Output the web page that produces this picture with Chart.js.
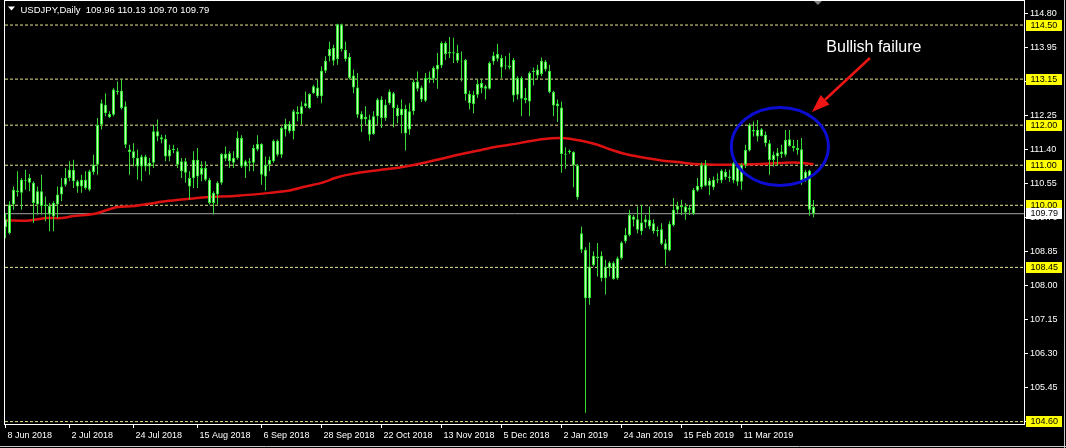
<!DOCTYPE html>
<html>
<head>
<meta charset="utf-8">
<title>USDJPY Daily</title>
<script src="https://cdn.jsdelivr.net/npm/chart.js@4.4.1/dist/chart.umd.min.js"></script>
<style>
  html, body { margin: 0; padding: 0; background: #000; }
  #wrap { position: relative; width: 1066px; height: 448px; }
</style>
</head>
<body>
<div id="wrap"><canvas id="chart"></canvas></div>
<script>
// daily candles, 8 Jun 2018 .. 25 Mar 2019
const opens = [
  109.45,109.31,110.02,110.33,110.31,110.61,110.68,110.56,110.35,110.35,
  110.02,109.77,109.72,110.02,110.27,110.51,110.68,110.89,110.47,110.47,
  110.43,110.39,110.83,111.01,112.01,112.51,112.20,112.26,112.86,112.86,
  112.47,111.39,111.35,111.18,110.97,111.22,110.97,111.06,111.85,111.70,
  111.66,111.22,111.41,111.35,111.10,111.10,110.47,110.68,111.14,110.76,
  110.93,110.64,110.06,110.27,110.56,111.28,111.10,111.18,111.18,111.68,
  110.97,111.10,111.06,111.39,111.53,110.72,111.01,111.10,111.61,111.26,
  111.89,112.03,111.85,112.33,112.28,112.47,112.43,112.80,112.94,112.72,
  113.36,113.72,113.93,113.65,114.51,113.88,113.71,113.24,112.94,112.28,
  112.15,112.14,111.78,112.22,112.64,112.18,112.55,112.80,112.43,112.25,
  112.41,111.89,112.35,113.09,112.94,112.61,113.15,113.16,113.39,113.49,
  114.05,113.79,113.82,113.80,113.61,113.63,112.78,112.53,112.76,113.05,
  112.97,112.91,113.59,113.66,113.68,113.47,113.49,113.63,112.76,113.18,
  112.68,112.59,113.33,113.39,113.28,113.59,113.36,112.83,112.54,112.44,
  111.28,111.33,111.33,111.00,109.30,108.89,107.68,108.51,108.72,108.74,
  108.18,108.43,108.56,108.18,108.68,109.10,109.26,109.72,109.65,109.35,
  109.57,109.64,109.55,109.39,109.40,109.05,108.87,109.51,109.89,109.99,
  109.97,109.89,109.79,110.37,110.45,111.01,110.49,110.64,110.62,110.62,
  110.84,110.68,110.62,110.95,110.59,111.01,111.37,111.88,111.72,111.90,
  111.76,111.55,111.13,111.22,111.28,111.26,111.65,111.48,111.43,111.40,
  110.64,110.87,109.96
];
const highs = [
  109.80,110.10,110.47,110.85,110.68,110.89,110.78,110.60,110.47,110.76,
  110.22,110.06,110.10,110.47,110.68,110.93,111.10,111.14,110.64,110.76,
  110.85,110.89,111.26,112.18,112.64,112.80,112.35,112.93,113.09,113.14,
  112.59,111.51,111.55,111.39,111.26,111.26,111.18,112.01,112.14,111.76,
  111.76,111.51,111.51,111.43,111.18,111.18,110.85,111.35,111.43,111.10,
  111.10,110.68,110.35,110.60,111.30,111.47,111.35,111.35,111.85,111.75,
  111.14,111.18,111.51,111.75,111.55,111.22,111.22,111.64,111.64,111.97,
  112.16,112.10,112.39,112.47,112.59,112.84,112.80,113.01,113.14,113.47,
  113.72,114.08,114.01,114.53,114.53,114.08,113.80,113.39,113.30,112.35,
  112.47,112.26,112.35,112.68,112.72,112.64,112.89,112.83,112.51,112.64,
  112.51,112.55,113.14,113.34,112.99,113.30,113.34,113.47,113.80,114.09,
  114.09,114.20,114.18,114.01,113.84,113.65,112.86,112.86,113.14,113.14,
  113.01,113.59,113.83,114.03,113.76,113.72,113.80,113.68,113.22,113.22,
  112.93,113.34,113.44,113.51,113.69,113.63,113.51,112.86,112.64,112.59,
  111.45,111.39,111.35,111.03,109.47,108.95,109.07,108.85,109.06,108.85,
  108.64,108.60,108.60,108.72,109.10,109.43,109.89,109.76,109.97,110.01,
  109.76,109.97,109.65,109.47,109.55,109.15,109.60,110.18,110.09,110.14,
  110.05,110.01,110.43,110.68,111.07,111.13,110.68,110.72,110.80,110.90,
  110.90,110.89,111.09,110.97,111.05,111.51,112.05,112.09,112.13,111.93,
  111.84,111.63,111.34,111.43,111.51,111.88,111.88,111.63,111.63,111.68,
  110.89,110.89,110.13
];
const lows = [
  109.18,109.27,109.89,110.22,109.89,110.39,110.35,109.56,109.77,109.77,
  109.60,109.35,109.35,109.68,110.10,110.47,110.60,110.43,110.31,110.31,
  110.39,110.35,110.76,110.76,111.89,112.22,112.18,112.22,112.76,112.39,
  111.43,110.76,110.97,110.64,110.60,110.85,110.76,110.93,111.60,111.55,
  111.10,111.10,111.30,110.93,110.68,110.56,110.14,110.43,110.43,110.60,
  110.60,110.02,109.77,110.02,110.51,111.10,110.93,110.93,111.14,110.93,
  110.68,110.85,110.85,111.35,110.51,110.37,110.85,111.06,111.22,111.18,
  111.72,111.80,111.64,112.10,112.01,112.43,112.41,112.78,112.68,112.55,
  113.30,113.59,113.49,113.51,113.84,113.59,113.14,112.80,112.18,111.83,
  112.01,111.61,111.76,112.01,111.93,112.11,112.51,111.95,112.05,111.80,
  111.37,111.76,112.26,112.84,112.58,112.58,113.05,113.05,112.91,113.43,
  113.63,113.68,113.55,113.55,113.09,112.61,112.39,112.30,112.68,112.80,
  112.64,112.89,113.51,113.59,113.18,113.39,113.39,112.58,112.64,112.22,
  112.55,112.22,112.99,113.14,113.22,113.34,112.80,112.22,112.08,110.81,
  110.91,111.28,110.45,110.14,108.81,104.82,107.52,108.47,108.22,108.10,
  107.77,108.22,108.14,108.14,108.64,109.05,109.22,109.47,109.30,109.26,
  109.43,109.40,109.29,109.22,109.01,108.49,108.85,109.47,109.80,109.76,
  109.64,109.76,109.76,110.34,110.40,110.47,110.26,110.39,110.55,110.55,
  110.64,110.59,110.55,110.49,110.39,110.93,111.34,111.72,111.59,111.72,
  111.47,110.76,110.97,110.98,111.18,111.22,111.47,111.34,111.26,110.51,
  110.59,109.74,109.70
];
const closes = [
  109.65,110.02,110.39,110.37,110.64,110.64,110.56,110.06,110.02,109.98,
  109.98,109.98,110.06,110.27,110.47,110.68,110.89,110.60,110.60,110.64,
  110.64,110.85,111.01,112.01,112.55,112.30,112.28,112.89,112.83,112.43,
  111.51,111.33,111.18,110.97,111.22,110.97,111.06,111.85,111.72,111.64,
  111.22,111.39,111.38,111.01,110.85,110.81,110.68,111.14,110.72,110.93,
  110.64,110.06,110.31,110.56,111.28,111.16,111.30,111.06,111.68,110.97,
  111.10,111.06,111.43,111.53,110.76,111.01,111.14,111.61,111.26,111.93,
  112.03,111.85,112.35,112.28,112.47,112.55,112.78,112.97,112.72,113.36,
  113.61,113.90,113.61,114.52,113.90,113.65,113.18,112.94,112.26,112.14,
  112.21,111.76,112.22,112.64,112.18,112.51,112.84,112.43,112.22,112.41,
  111.79,112.35,113.08,112.91,112.64,113.18,113.19,113.43,113.51,114.05,
  113.78,113.83,113.79,113.61,113.59,112.78,112.55,112.76,113.03,112.93,
  112.91,113.55,113.74,113.78,113.44,113.49,113.44,112.74,113.18,112.66,
  112.63,113.30,113.36,113.24,113.61,113.39,112.83,112.49,112.47,111.28,
  111.26,111.36,111.00,110.20,108.89,107.68,108.47,108.74,108.68,108.18,
  108.47,108.57,108.16,108.68,109.07,109.26,109.76,109.64,109.39,109.57,
  109.65,109.47,109.35,109.35,109.04,108.89,109.54,109.89,109.99,109.95,
  109.82,109.93,110.39,110.49,111.01,110.49,110.62,110.45,110.65,110.87,
  110.70,110.72,111.05,110.59,111.01,111.38,112.01,111.84,111.88,111.73,
  111.55,111.13,111.26,111.32,111.34,111.63,111.48,111.43,111.38,110.62,
  110.84,109.89,109.79
];

// red moving average, read at these bar numbers
const maIdx = [0,6,10,14,17,22,25,28,32,36,40,47,50,58,66,71,75,79,83,87,91,96,100,
  105,109,114,118,122,126,130,134,139,144,148,151,155,159,164,168,172,180,189,197,202];
const maVals = [109.62,109.62,109.68,109.68,109.73,109.78,109.87,109.96,109.98,110.04,
  110.10,110.17,110.20,110.24,110.31,110.37,110.47,110.56,110.70,110.79,110.85,110.91,
  110.97,111.07,111.16,111.28,111.36,111.45,111.51,111.58,111.65,111.68,111.61,111.51,
  111.40,111.28,111.20,111.12,111.08,111.03,111.01,111.03,111.07,111.03];

// horizontal levels and price axis
const levels = [114.50, 113.15, 112.00, 111.00, 110.00, 108.45, 104.60];
const bid = 109.79;
const priceTicks = [114.80, 113.95, 113.10, 112.25, 111.40, 110.55, 109.70, 108.85,
  108.00, 107.15, 106.30, 105.45, 104.60];
const dateTickIdx = [0, 16, 32, 48, 64, 79, 94, 109, 124, 139, 154, 169, 184];
const dateLabels = ['8 Jun 2018', '2 Jul 2018', '24 Jul 2018', '15 Aug 2018', '6 Sep 2018',
  '28 Sep 2018', '22 Oct 2018', '13 Nov 2018', '5 Dec 2018', '2 Jan 2019', '24 Jan 2019',
  '15 Feb 2019', '11 Mar 2019'];

const header = 'USDJPY,Daily  109.96 110.13 109.70 109.79';
const note = 'Bullish failure';

const xMin = -0.125, xMax = 254.625;
const yMin = 104.54, yMax = 115.10;
const axisFont = { family: 'Liberation Sans', size: 9 };

const wickData = opens.map((_, i) => ({ x: i, y: [lows[i], highs[i]] }));
const bodyData = opens.map((o, i) => ({ x: i, y: [o, closes[i]] }));
const maData = maIdx.map((v, k) => ({ x: v, y: maVals[k] }));

const levelSets = levels.map(lv => ({
  type: 'line',
  data: [{ x: xMin, y: lv }, { x: xMax, y: lv }],
  borderColor: '#e6e68e',
  borderWidth: 1,
  borderDash: [3, 2],
  pointRadius: 0,
  order: 6
}));

const decor = {
  id: 'decor',
  beforeDraw(chart) {
    const { ctx, width, height } = chart;
    ctx.save();
    ctx.fillStyle = '#000';
    ctx.fillRect(0, 0, width, height);
    ctx.restore();
  },
  afterDraw(chart) {
    const { ctx, chartArea: a, scales, width, height } = chart;
    const x = scales.x, y = scales.y;
    ctx.save();

    // frame
    ctx.strokeStyle = '#ffffff';
    ctx.lineWidth = 1;
    ctx.strokeRect(a.left - 0.5, a.top - 0.5, a.right - a.left + 1, a.bottom - a.top + 1);
    ctx.strokeStyle = '#c8c8c8';
    ctx.beginPath();
    ctx.moveTo(0, height - 1.5); ctx.lineTo(width, height - 1.5);
    ctx.moveTo(width - 1.5, 0); ctx.lineTo(width - 1.5, height);
    ctx.stroke();

    // header
    ctx.fillStyle = '#ffffff';
    ctx.beginPath();
    ctx.moveTo(8, 6.5); ctx.lineTo(15, 6.5); ctx.lineTo(11.5, 10.5); ctx.closePath();
    ctx.fill();
    ctx.font = '9.5px "Liberation Sans"';
    ctx.textBaseline = 'alphabetic';
    ctx.textAlign = 'left';
    ctx.fillText(header, 20.5, 12.5);

    // chart shift marker
    const sx = x.getPixelForValue(203.1);
    ctx.fillStyle = '#808080';
    ctx.beginPath();
    ctx.moveTo(sx - 4, a.top); ctx.lineTo(sx + 4, a.top); ctx.lineTo(sx, a.top + 4); ctx.closePath();
    ctx.fill();

    // price labels of the levels
    ctx.font = '9px "Liberation Sans"';
    ctx.textBaseline = 'middle';
    const tag = (v, bg) => {
      const py = y.getPixelForValue(v);
      const top = Math.round(py - 5.5);
      ctx.fillStyle = bg;
      ctx.fillRect(a.right + 2, top, 36, 11);
      ctx.fillStyle = '#000';
      ctx.fillText(v.toFixed(2), a.right + 6.5, top + 6);
    };
    levels.forEach(v => tag(v, '#ffff00'));
    tag(bid, '#ffffff');

    // annotation: ellipse, arrow, text
    const ex = x.getPixelForValue(193.6), ey = y.getPixelForValue(111.468);
    ctx.strokeStyle = '#0c0cd2';
    ctx.lineWidth = 3;
    ctx.beginPath();
    ctx.ellipse(ex, ey, 48.5, 39, 0, 0, Math.PI * 2);
    ctx.stroke();

    const tx = x.getPixelForValue(216.1), ty = y.getPixelForValue(113.677);
    const hx = x.getPixelForValue(201.6), hy = y.getPixelForValue(112.329);
    const ang = Math.atan2(hy - ty, hx - tx);
    const headLen = 18, headW = 6.5;
    const bx = hx - headLen * Math.cos(ang), by = hy - headLen * Math.sin(ang);
    ctx.strokeStyle = '#ee1515';
    ctx.fillStyle = '#ee1515';
    ctx.lineWidth = 2.5;
    ctx.beginPath();
    ctx.moveTo(tx, ty); ctx.lineTo(bx, by);
    ctx.stroke();
    ctx.beginPath();
    ctx.moveTo(hx, hy);
    ctx.lineTo(bx + headW * Math.sin(ang), by - headW * Math.cos(ang));
    ctx.lineTo(bx - headW * Math.sin(ang), by + headW * Math.cos(ang));
    ctx.closePath();
    ctx.fill();

    ctx.fillStyle = '#ffffff';
    ctx.font = '16px "Liberation Sans"';
    ctx.textAlign = 'center';
    ctx.textBaseline = 'alphabetic';
    ctx.fillText(note, x.getPixelForValue(217.1), y.getPixelForValue(113.834));

    ctx.restore();
  }
};

new Chart(document.getElementById('chart'), {
  type: 'bar',
  data: {
    datasets: [
      {
        type: 'bar',
        data: bodyData,
        backgroundColor: '#c6fbbd',
        borderColor: '#2ee02e',
        borderWidth: 1,
        borderSkipped: false,
        inflateAmount: 0,
        barThickness: 3,
        grouped: false,
        order: 1
      },
      {
        type: 'bar',
        data: wickData,
        backgroundColor: '#36d936',
        borderWidth: 0,
        inflateAmount: 0,
        barThickness: 1,
        grouped: false,
        order: 2
      },
      {
        type: 'line',
        data: maData,
        borderColor: '#dd1111',
        borderWidth: 2.5,
        pointRadius: 0,
        tension: 0.3,
        order: 4
      },
      {
        type: 'line',
        data: [{ x: xMin, y: bid }, { x: xMax, y: bid }],
        borderColor: '#a4a4a4',
        borderWidth: 1,
        pointRadius: 0,
        order: 5
      },
      ...levelSets
    ]
  },
  options: {
    responsive: true,
    maintainAspectRatio: false,
    devicePixelRatio: 1,
    animation: false,
    events: [],
    layout: { autoPadding: false, padding: { left: 5, top: 1, right: 0, bottom: 0 } },
    plugins: { legend: { display: false }, tooltip: { enabled: false } },
    scales: {
      x: {
        type: 'linear',
        min: xMin,
        max: xMax,
        offset: false,
        afterBuildTicks: axis => { axis.ticks = dateTickIdx.map(v => ({ value: v })); },
        afterFit: axis => {
          axis.height = 24;
          axis.paddingLeft = 0; axis.paddingRight = 0;
          axis.paddingTop = 0; axis.paddingBottom = 0;
        },
        border: { display: false },
        grid: { offset: false, drawOnChartArea: false, drawTicks: true, tickLength: 4, color: '#ffffff' },
        ticks: {
          autoSkip: false,
          maxRotation: 0,
          minRotation: 0,
          align: 'start',
          labelOffset: 2,
          padding: 2,
          color: '#ffffff',
          font: axisFont,
          callback: (v, i) => dateLabels[i]
        }
      },
      y: {
        type: 'linear',
        position: 'right',
        min: yMin,
        max: yMax,
        beginAtZero: false,
        afterBuildTicks: axis => { axis.ticks = priceTicks.map(v => ({ value: v })); },
        afterFit: axis => {
          axis.width = 42;
          axis.paddingLeft = 0; axis.paddingRight = 0;
          axis.paddingTop = 0; axis.paddingBottom = 0;
        },
        border: { display: false },
        grid: { drawOnChartArea: false, drawTicks: true, tickLength: 4, color: '#ffffff' },
        ticks: {
          padding: 2,
          color: '#ffffff',
          font: axisFont,
          callback: v => Number(v).toFixed(2)
        }
      }
    }
  },
  plugins: [decor]
});
</script>
</body>
</html>
